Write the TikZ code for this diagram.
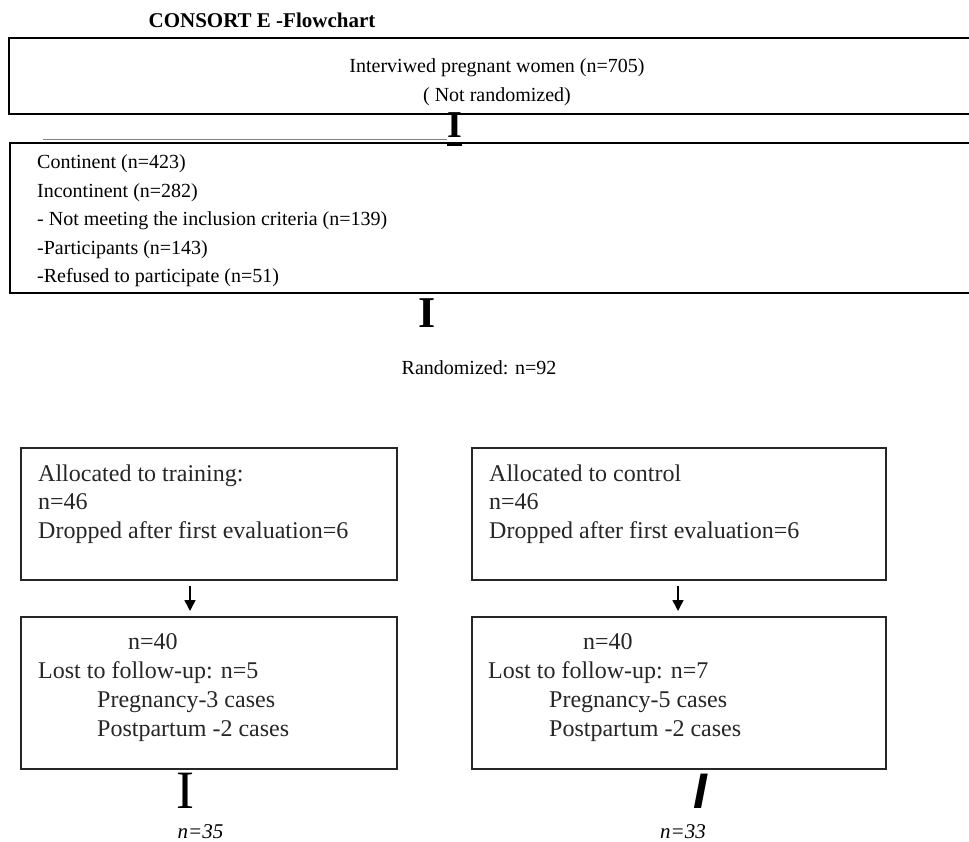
\documentclass[tikz,border=0pt]{standalone}
\usepackage{fontspec}
\setmainfont{Liberation Serif}
\newfontfamily\sansf{Liberation Sans}
\usetikzlibrary{arrows.meta}
\begin{document}
\begin{tikzpicture}[x=1pt,y=-1pt,
  txt/.style={inner sep=0pt, anchor=base west, font=\fontsize{20}{24}\selectfont},
  ctxt/.style={inner sep=0pt, anchor=base, font=\fontsize{20}{24}\selectfont},
  scan/.style={inner sep=0pt, anchor=base west, font=\fontsize{24}{28}\selectfont, text=black!85},
  frame/.style={draw=black!85, line width=2pt, inner sep=0pt, minimum height=132pt},
  tallframe/.style={frame, minimum height=152pt},
  flow/.style={draw=black, line width=1.6pt, -{Triangle[length=11pt,width=11pt]}, shorten <=5pt, shorten >=5pt},
  glyph/.style={inner sep=0pt, anchor=base}
]
\useasboundingbox (0,0) rectangle (969,842);
\fill[white] (0,0) rectangle (969,842);

% title
\node[glyph, font=\fontsize{21}{24}\selectfont\bfseries] (title) at (262,28) {CONSORT E -Flowchart};

% top box (open to the right)
\coordinate (t1) at (9,38);
\coordinate (t2) at (9,114);
\draw[line width=1.3pt] (969,38) -- (t1) -- (t2) -- (969,114);
\node[ctxt] (interv) at (497,73) {Interviwed pregnant women (n=705)};
\node[ctxt] (notrand) at (497,102) {( Not randomized)};

% underscores and bold I
\draw[gray, line width=1pt] (43,140) -- (447,140);
\node[glyph, font=\fontsize{38}{40}\selectfont\bfseries] (i1) at (454.5,138) {I};
\draw[line width=3pt] (447,144.5) -- (462,144.5);

% second box (open to the right)
\coordinate (s1) at (10,143);
\coordinate (s2) at (10,293);
\draw[line width=1.8pt] (969,143) -- (s1) -- (s2) -- (969,293);
\node[txt] (cont) at (37,169) {Continent (n=423)};
\node[txt] (incont) at (37,197.5) {Incontinent (n=282)};
\node[txt] (notmeet) at (37,226) {- Not meeting the inclusion criteria (n=139)};
\node[txt] (partic) at (37,254.5) {-Participants (n=143)};
\node[txt] (refused) at (37,283) {-Refused to participate (n=51)};

% middle I and randomized
\node[glyph, font=\fontsize{44}{46}\selectfont\bfseries] (i2) at (427.5,327) {I};
\node[ctxt] (rand) at (479,374) {Randomized: n=92};

% lower boxes
\node[frame, minimum width=376pt] (b1) at (209,514) {};
\node[tallframe, minimum width=376pt] (b2) at (209,693) {};
\node[frame, minimum width=414pt] (b3) at (679,514) {};
\node[tallframe, minimum width=414pt] (b4) at (679,693) {};

\node[scan] (l1) at (38,481) {Allocated to training:};
\node[scan] (l2) at (38,509) {n=46};
\node[scan] (l3) at (38,538) {Dropped after first evaluation=6};
\node[scan] (r1) at (489,481) {Allocated to control};
\node[scan] (r2) at (489,509) {n=46};
\node[scan] (r3) at (489,538) {Dropped after first evaluation=6};

\node[scan] (l4) at (128,649) {n=40};
\node[scan] (l5) at (38,678) {Lost to follow-up: n=5};
\node[scan] (l6) at (97,707) {Pregnancy-3 cases};
\node[scan] (l7) at (97,736) {Postpartum -2 cases};
\node[scan] (r4) at (583,649) {n=40};
\node[scan] (r5) at (488,678) {Lost to follow-up: n=7};
\node[scan] (r6) at (549,707) {Pregnancy-5 cases};
\node[scan] (r7) at (549,736) {Postpartum -2 cases};

% arrows
\draw[flow] ([xshift=-19pt]b1.south) -- ([xshift=-19pt]b2.north);
\draw[flow] ([xshift=-1pt]b3.south) -- ([xshift=-1pt]b4.north);

% bottom marks and counts
\node[glyph, font=\fontsize{54}{56}\selectfont] (i3) at (185,808) {I};
\node[glyph, font=\sansf\bfseries\itshape\fontsize{50}{52}\selectfont] (i4) at (700,808) {I};
\node[glyph, font=\itshape\fontsize{21}{24}\selectfont] (n35) at (200.5,838) {n=35};
\node[glyph, font=\itshape\fontsize{21}{24}\selectfont] (n33) at (683,838) {n=33};
\end{tikzpicture}
\end{document}
